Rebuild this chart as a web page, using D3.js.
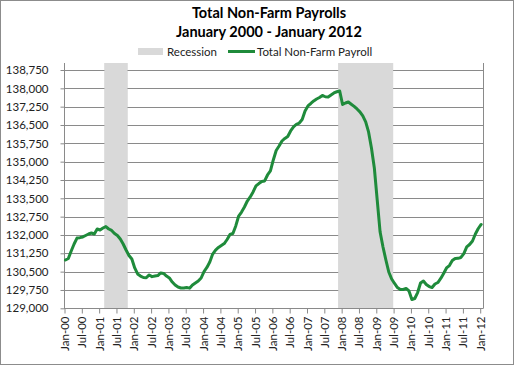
<!DOCTYPE html>
<html><head><meta charset="utf-8">
<script src="https://cdn.jsdelivr.net/npm/d3@7"></script>
<style>
body{margin:0;background:#fff;}
svg{display:block;font-family:Lato,"Open Sans",sans-serif;}
</style></head>
<body><svg id="c" width="514" height="365"></svg>
<script>
const monthNames = ["Jan","Feb","Mar","Apr","May","Jun","Jul","Aug","Sep","Oct","Nov","Dec"];
const startYear = 2000, monthCount = 145;
const payroll = [
130975,131040,131345,131630,131875,131890,131920,131980,132040,132080,132040,132245,
132205,132285,132345,132245,132185,132060,131980,131835,131630,131385,131160,131015,
130650,130405,130320,130260,130250,130365,130295,130320,130340,130445,130425,130320,
130240,130075,129955,129870,129830,129830,129850,129825,129955,130035,130115,130240,
130505,130670,130895,131220,131385,131490,131570,131650,131815,132020,132060,132370,
132775,132940,133145,133390,133555,133760,134005,134105,134190,134210,134455,134620,
135070,135455,135640,135845,135950,136030,136255,136420,136530,136580,136725,137075,
137280,137380,137485,137565,137625,137710,137655,137645,137730,137810,137860,137890,
137340,137400,137440,137350,137260,137155,137035,136870,136625,136215,135560,134740,
133430,132120,131510,130975,130485,130200,130015,129850,129770,129770,129810,129710,
129360,129400,129645,130035,130115,129975,129890,129850,129995,130055,130220,130425,
130650,130750,130955,131040,131045,131080,131240,131510,131610,131755,132040,132265,
132430];
const recessions = [["Mar-01","Oct-01"],["Dec-07","Jun-09"]];
const yTicks = [129000,129750,130500,131250,132000,132750,133500,134250,135000,135750,136500,137250,138000,138750];
const titleLines = ["Total Non-Farm Payrolls","January 2000 - January 2012"];
const legendLabels = ["Recession","Total Non-Farm Payroll"];

const months = d3.range(monthCount).map(i => monthNames[i%12] + "-" + String((startYear + Math.floor(i/12))%100).padStart(2,"0"));
const data = months.map((m,i) => ({m, v: payroll[i]}));

const svg = d3.select("#c");
const L = 64, R = 483, T = 63, B = 308.3;
const green = "#1f8b3b";

svg.append("rect").attr("x",0.5).attr("y",0.5).attr("width",513).attr("height",364)
  .attr("fill","#fff").attr("stroke","#8c8c8c");

const x = d3.scaleBand().domain(months).range([L, 482.6]).paddingInner(0).paddingOuter(0);
const y = d3.scaleLinear().domain([129000,138750]).range([B,70]);
const bw = x.bandwidth();

// recession bars
svg.append("g").selectAll("rect").data(recessions).join("rect")
  .attr("x", d => x(d[0])).attr("width", d => x(d[1]) + bw - x(d[0]))
  .attr("y", T).attr("height", B - T).attr("fill","#d9d9d9");

// gridlines
svg.append("g").selectAll("line").data(yTicks.slice(1)).join("line")
  .attr("x1", L).attr("x2", R).attr("y1", d => Math.round(y(d))+0.5).attr("y2", d => Math.round(y(d))+0.5)
  .attr("stroke","#8a8a8a").attr("stroke-width",1)
  .each(function(d){});
// redraw bars over gridlines? In reference, gridlines are hidden behind recession bars
svg.append("g").selectAll("rect").data(recessions).join("rect")
  .attr("x", d => x(d[0])).attr("width", d => x(d[1]) + bw - x(d[0]))
  .attr("y", T).attr("height", B - T).attr("fill","#d9d9d9");

// right border
svg.append("line").attr("x1",R+0.5).attr("x2",R+0.5).attr("y1",T).attr("y2",B)
  .attr("stroke","#8a8a8a");

// y axis
const yAxis = d3.axisLeft(y).tickValues(yTicks).tickSize(4).tickPadding(12).tickFormat(d3.format(","));
const gy = svg.append("g").attr("transform",`translate(${L+0.5},0)`).call(yAxis);
gy.select(".domain").attr("d",`M-4,${T}H0V${B}`).attr("stroke","#8a8a8a").attr("d",`M0,${T}V${Math.round(B)+0.5}`);
gy.selectAll(".tick line").attr("stroke","#8a8a8a");
gy.selectAll(".tick text").attr("font-size","11.5px").attr("fill","#222").attr("font-family","Lato");

// x axis (ticks between categories)
const edge = d => x(d);
edge.copy = () => edge; edge.range = () => x.range(); edge.domain = () => x.domain();
const xTickVals = months.filter(m => m.startsWith("Jan") || m.startsWith("Jul"));
const xAxis = d3.axisBottom(edge).tickValues(xTickVals).tickSize(5).tickPadding(8).tickFormat(d => d);
const gx = svg.append("g").attr("transform",`translate(0.5,${Math.round(B)+0.5})`).call(xAxis);
gx.select(".domain").attr("stroke","#8a8a8a").attr("d",`M${L-0.5},0H${R}`);
gx.selectAll(".tick line").attr("stroke","#8a8a8a");
gx.selectAll(".tick text").attr("font-size","11.5px").attr("fill","#222").attr("font-family","Lato")
  .attr("transform","rotate(-90)").attr("text-anchor","end").attr("x",-8).attr("y",0).attr("dy","0.35em");

// line
const line = d3.line().x(d => x(d.m) + bw/2).y(d => y(d.v)).curve(d3.curveLinear);
svg.append("path").datum(data).attr("d", line).attr("fill","none")
  .attr("stroke", green).attr("stroke-width",3).attr("stroke-linejoin","round").attr("stroke-linecap","round");

// title
svg.append("g").selectAll("text").data(titleLines).join("text")
  .attr("x", 269).attr("y",(d,i)=> 18 + i*19).attr("text-anchor","middle")
  .attr("font-weight","bold").attr("font-size","14.5px").attr("fill","#000").text(d => d);

// legend
const lg = svg.append("g");
lg.append("rect").attr("x",138).attr("y",48).attr("width",25).attr("height",7).attr("fill","#d9d9d9");
lg.append("text").attr("x",167).attr("y",56).attr("font-size","11.5px").attr("fill","#222").text(legendLabels[0]);
lg.append("line").attr("x1",228).attr("x2",255).attr("y1",51.5).attr("y2",51.5).attr("stroke",green).attr("stroke-width",3);
lg.append("text").attr("x",257).attr("y",56).attr("font-size","11.5px").attr("fill","#222").text(legendLabels[1]);
</script></body></html>
